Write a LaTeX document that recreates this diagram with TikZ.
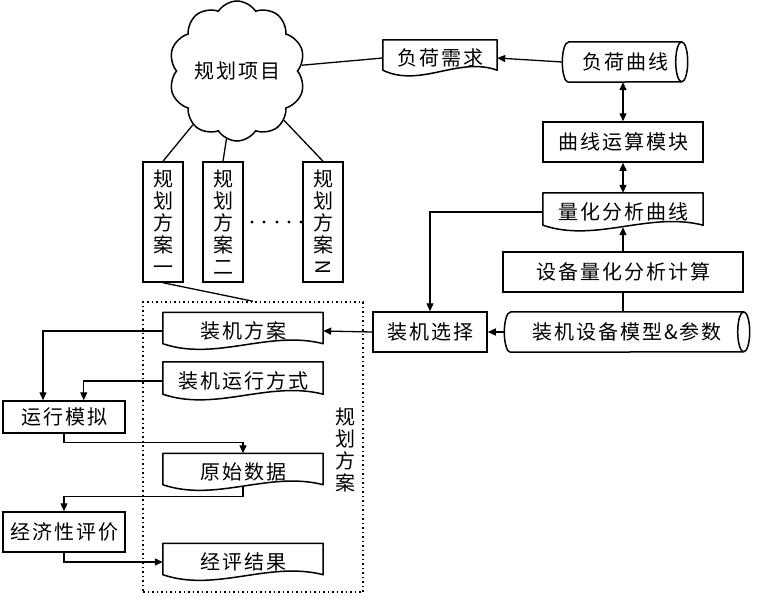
\documentclass[tikz,border=0pt]{standalone}
\usepackage{fontspec}
\setmainfont{Noto Sans CJK SC}[LetterSpace=10]
\usetikzlibrary{arrows.meta,calc,shapes.symbols}

\tikzset{
  box/.style={draw, line width=1.5pt, inner sep=0pt, font=\fontsize{20}{22}\selectfont},
  doc/.style={inner sep=0pt, font=\fontsize{20}{22}\selectfont},
  outline/.style={line width=1.5pt, line join=round},
  link/.style={line width=1.3pt, ->},
}

% document shape: rectangle with wavy lower edge
\newcommand{\docnode}[5]{%
  \node[doc, minimum width=#3, minimum height=#4] (#1) at (#2) {#5};
  \draw[outline] ($(#1.south west)+(0,-6)$) -- (#1.north west) -- (#1.north east)
    -- ($(#1.south east)+(0,-6)$)
    .. controls ($(#1.south west)!0.66!(#1.south east)+(0,-20)$)
    and ($(#1.south west)!0.33!(#1.south east)+(0,12)$)
    .. ($(#1.south west)+(0,-6)$) -- cycle;
}

% stored data shape: lying drum, open ellipse on the right
\newcommand{\drumnode}[5]{%
  \node[doc, minimum width=#3, minimum height=#4] (#1) at (#2) {#5};
  \draw[outline] ($(#1.north west)+(6,0)$) -- ($(#1.north east)+(-6,0)$)
    arc[start angle=90, end angle=-90, x radius=6pt, y radius=#4pt/2]
    -- ($(#1.south west)+(6,0)$)
    arc[start angle=270, end angle=90, x radius=6pt, y radius=#4pt/2] -- cycle;
  \draw[outline] ($(#1.north east)+(-6,0)$)
    arc[start angle=90, end angle=270, x radius=6pt, y radius=#4pt/2];
}

\begin{document}
\begin{tikzpicture}[x=1pt, y=-1pt, >={Triangle[length=8pt,width=7pt]}]
  \useasboundingbox (0,0) rectangle (757,597);

  % Planning project and its plans
  \node[cloud, draw, line width=1.5pt, cloud puffs=10, cloud puff arc=115,
    minimum width=131, minimum height=140, inner sep=0pt,
    font=\fontsize{20}{22}\selectfont] (proj) at (237,71) {规划项目};
  \foreach \n/\px/\last in {plan1/163/一, plan2/223/二, planN/323/{\rotatebox{90}{N}}} {
    \node[box, minimum width=40, minimum height=120, align=center] (\n) at (\px,222)
      {规\\划\\方\\案\\\last};
    \draw[line width=1.3pt] (proj) -- (\n.north);
  }
  \foreach \dx in {252,264,277,289,301}
    \fill (\dx,222) circle (1.7pt);

  % Load side (right column)
  \docnode{demand}{440,58}{114}{36}{负荷需求}
  \drumnode{loadcurve}{625,62}{125}{40}{负荷曲线}
  \node[box, minimum width=160, minimum height=40] (curvecalc) at (623,142) {曲线运算模块};
  \docnode{quantcurve}{623,212}{160}{38}{量化分析曲线}
  \node[box, minimum width=240, minimum height=40] (devcalc) at (623,272) {设备量化分析计算};
  \drumnode{devmodel}{627,332}{245}{40}{装机设备模型\&参数}
  \node[box, minimum width=114, minimum height=40] (select) at (430,332) {装机选择};

  \draw[line width=1.3pt] (proj) -- (demand.west);
  \draw[link] (loadcurve.west) -- (demand.east);
  \draw[line width=1.3pt, <->] (curvecalc.north |- loadcurve.south) -- (curvecalc.north);
  \draw[line width=1.3pt, <->] (curvecalc.south) -- (quantcurve.north);
  \draw[link] (devcalc.north) -- ($(quantcurve.south)+(0,-4)$);
  \draw[line width=1.3pt] (devcalc.south) -- (devcalc.south |- devmodel.north);
  \draw[link] (devmodel.west) -- (select.east);
  \draw[link] (quantcurve.west) -| (select.north);

  % Plan frame (dotted)
  \node[draw, line width=1.5pt, dash pattern=on 1.5pt off 3pt, minimum width=220,
    minimum height=290, inner sep=0pt] (frame) at (253,447) {};
  \node[align=center, inner sep=0pt, font=\fontsize{20}{22}\selectfont] (framelabel)
    at (345,450) {规\\划\\方\\案};
  \draw[line width=1.3pt] (plan1.south) -- (frame.north);

  \docnode{scheme}{243,331}{160}{37}{装机方案}
  \docnode{mode}{243,381}{160}{38}{装机运行方式}
  \docnode{rawdata}{243,472}{160}{37}{原始数据}
  \docnode{result}{243,562}{160}{37}{经评结果}

  % Simulation and evaluation (left column)
  \node[box, minimum width=122, minimum height=32] (sim) at (64,417) {运行模拟};
  \node[box, minimum width=122, minimum height=40] (econ) at (64,532) {经济性评价};

  \draw[link] (select.west) -- (scheme.east);
  \draw[link] (scheme.west) -| ($(sim.north west)!0.33!(sim.north east)$);
  \draw[link] (mode.west) -| ($(sim.north west)!0.66!(sim.north east)$);
  \draw[link] (sim.south) -- ++(0,9) -| (rawdata.north);
  \draw[link] ($(rawdata.south)+(0,-4)$) |- ($(econ.north)+(0,-15)$) -- (econ.north);
  \draw[link] (econ.south) |- (result.west);

\end{tikzpicture}
\end{document}
